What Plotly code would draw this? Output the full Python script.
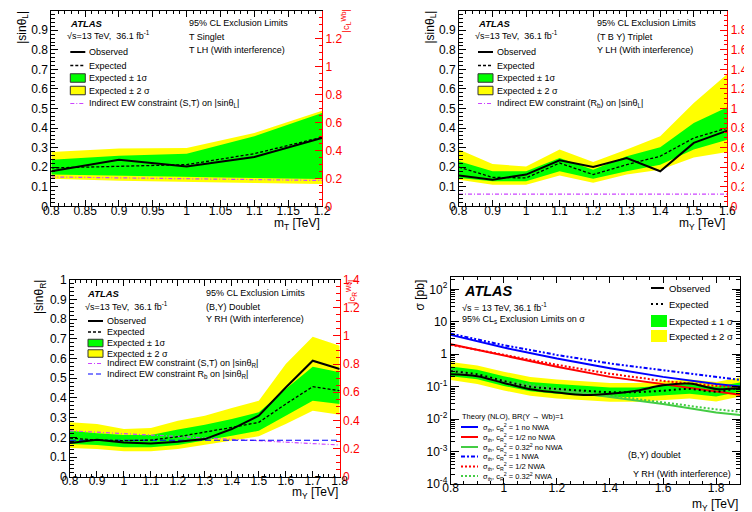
import plotly.graph_objects as go

W, H = 752, 512
def PX(x): return x / W
def PY(y): return 1 - y / H

FONT = "Liberation Sans, Arial, Helvetica, sans-serif"
GREEN = "#00ff00"
YELLOW = "#ffff00"
MAGENTA = "#cc44ff"
RED = "#ff0000"

# ---------------- Panel 1: T singlet ----------------
m_T = [0.8, 0.9, 1.0, 1.1, 1.2]
p1_obs = [0.179, 0.238, 0.203, 0.252, 0.349]
p1_exp = [0.196, 0.204, 0.213, 0.269, 0.353]
p1_s1_hi = [0.238, 0.259, 0.269, 0.358, 0.477]
p1_s1_lo = [0.162, 0.156, 0.150, 0.145, 0.140]
p1_s2_hi = [0.278, 0.295, 0.298, 0.375, 0.489]
p1_s2_lo = [0.141, 0.131, 0.124, 0.119, 0.114]
p1_ew = [0.150, 0.146, 0.141, 0.137, 0.132]

# ---------------- Panel 2: (T B Y) triplet ----------------
m_Y2 = [0.8, 0.9, 1.0, 1.1, 1.2, 1.3, 1.4, 1.5, 1.6]
p2_obs = [0.158, 0.136, 0.162, 0.235, 0.201, 0.247, 0.179, 0.324, 0.387]
p2_exp = [0.200, 0.148, 0.145, 0.221, 0.162, 0.213, 0.256, 0.349, 0.400]
p2_s1_hi = [0.230, 0.179, 0.179, 0.247, 0.187, 0.256, 0.302, 0.426, 0.506]
p2_s1_lo = [0.145, 0.128, 0.128, 0.179, 0.141, 0.179, 0.213, 0.290, 0.340]
p2_s2_hi = [0.290, 0.216, 0.204, 0.290, 0.227, 0.290, 0.358, 0.528, 0.676]
p2_s2_lo = [0.136, 0.110, 0.110, 0.158, 0.120, 0.162, 0.187, 0.250, 0.278]
p2_ew = [0.062, 0.062, 0.062, 0.062, 0.062, 0.062, 0.062, 0.062, 0.062]

# ---------------- Panel 3: (B,Y) doublet, sin theta_R ----------------
m_Y3 = [0.8, 0.9, 1.0, 1.1, 1.2, 1.3, 1.4, 1.5, 1.6, 1.7, 1.8]
p3_obs = [0.171, 0.188, 0.174, 0.169, 0.178, 0.191, 0.242, 0.310, 0.453, 0.589, 0.547]
p3_exp = [0.196, 0.186, 0.183, 0.186, 0.203, 0.225, 0.250, 0.276, 0.369, 0.457, 0.437]
p3_s1_hi = [0.233, 0.220, 0.212, 0.212, 0.239, 0.264, 0.293, 0.327, 0.445, 0.558, 0.530]
p3_s1_lo = [0.166, 0.161, 0.149, 0.149, 0.161, 0.183, 0.208, 0.233, 0.310, 0.386, 0.369]
p3_s2_hi = [0.276, 0.267, 0.242, 0.247, 0.284, 0.310, 0.349, 0.386, 0.572, 0.711, 0.665]
p3_s2_lo = [0.146, 0.140, 0.129, 0.129, 0.140, 0.161, 0.183, 0.205, 0.267, 0.335, 0.315]
p3_ew_st = [0.233, 0.226, 0.218, 0.211, 0.203, 0.196, 0.189, 0.182, 0.175, 0.168, 0.161]
p3_ew_rb = [0.185, 0.185, 0.185, 0.185, 0.185, 0.185, 0.185, 0.185, 0.185, 0.185, 0.185]

# ---------------- Panel 4: cross-section limits ----------------
m_Y4 = [0.8, 0.9, 1.0, 1.1, 1.2, 1.3, 1.4, 1.5, 1.6, 1.7, 1.8, 1.9]
p4_obs = [0.24, 0.21, 0.13, 0.083, 0.066, 0.055, 0.060, 0.075, 0.110, 0.125, 0.085, 0.090]
p4_exp = [0.30, 0.24, 0.15, 0.100, 0.085, 0.075, 0.068, 0.068, 0.075, 0.085, 0.070, 0.100]
p4_s1_hi = [0.42, 0.33, 0.21, 0.140, 0.120, 0.105, 0.095, 0.095, 0.105, 0.120, 0.100, 0.140]
p4_s1_lo = [0.21, 0.17, 0.105, 0.072, 0.060, 0.053, 0.048, 0.048, 0.053, 0.060, 0.050, 0.072]
p4_s2_hi = [0.58, 0.45, 0.29, 0.200, 0.165, 0.145, 0.130, 0.130, 0.145, 0.165, 0.140, 0.200]
p4_s2_lo = [0.16, 0.12, 0.076, 0.052, 0.043, 0.038, 0.034, 0.034, 0.038, 0.043, 0.035, 0.052]
m_th = [0.8, 1.0, 1.2, 1.4, 1.6, 1.8, 1.9]
th_c1 = [3.94, 1.60, 0.735, 0.37, 0.20, 0.12, 0.099]
th_c05 = [2.03, 0.89, 0.41, 0.20, 0.12, 0.075, 0.055]
th_c032 = [0.32, 0.135, 0.079, 0.049, 0.029, 0.016, 0.013]
th_c1_nwa = [4.30, 1.90, 0.95, 0.52, 0.32, 0.20, 0.158]
th_c05_nwa = [1.95, 0.95, 0.47, 0.25, 0.15, 0.105, 0.095]
th_c032_nwa = [0.34, 0.15, 0.088, 0.054, 0.034, 0.020, 0.0166]

log_ticks = [1e-4, 1e-3, 1e-2, 1e-1, 1, 10, 100]
log_ticktext = ["10<sup>-4</sup>", "10<sup>-3</sup>", "10<sup>-2</sup>", "10<sup>-1</sup>", "1", "10", "10<sup>2</sup>"]

fig = go.Figure()

def band(xs, lo, hi, color, xa, ya):
    fig.add_trace(go.Scatter(x=list(xs) + list(xs)[::-1], y=list(hi) + list(lo)[::-1],
                             fill="toself", fillcolor=color, line=dict(width=0), mode="lines",
                             xaxis=xa, yaxis=ya, showlegend=False, hoverinfo="skip"))

def line(xs, ys, color, width, dash, xa, ya, shape="linear"):
    fig.add_trace(go.Scatter(x=xs, y=ys, mode="lines", line=dict(color=color, width=width, dash=dash, shape=shape),
                             xaxis=xa, yaxis=ya, showlegend=False, hoverinfo="skip"))

EXPDASH = "3px,2px"
DASHDOT = "4px,2px,1px,2px"

# Panel 1
band(m_T, p1_s2_lo, p1_s2_hi, YELLOW, "x", "y")
band(m_T, p1_s1_lo, p1_s1_hi, GREEN, "x", "y")
line(m_T, p1_ew, MAGENTA, 1.2, DASHDOT, "x", "y")
line(m_T, p1_exp, "black", 1.3, EXPDASH, "x", "y")
line(m_T, p1_obs, "black", 2, "solid", "x", "y")
fig.add_trace(go.Scatter(x=[], y=[], xaxis="x", yaxis="y5", showlegend=False))

# Panel 2
band(m_Y2, p2_s2_lo, p2_s2_hi, YELLOW, "x2", "y2")
band(m_Y2, p2_s1_lo, p2_s1_hi, GREEN, "x2", "y2")
line(m_Y2, p2_ew, MAGENTA, 1.2, DASHDOT, "x2", "y2")
line(m_Y2, p2_exp, "black", 1.3, EXPDASH, "x2", "y2")
line(m_Y2, p2_obs, "black", 2, "solid", "x2", "y2")
fig.add_trace(go.Scatter(x=[], y=[], xaxis="x2", yaxis="y6", showlegend=False))

# Panel 3
band(m_Y3, p3_s2_lo, p3_s2_hi, YELLOW, "x3", "y3")
band(m_Y3, p3_s1_lo, p3_s1_hi, GREEN, "x3", "y3")
line(m_Y3, p3_ew_st, MAGENTA, 1.2, DASHDOT, "x3", "y3")
line(m_Y3, p3_ew_rb, "#0000ff", 1.2, "6px,3px", "x3", "y3")
line(m_Y3, p3_exp, "black", 1.3, EXPDASH, "x3", "y3")
line(m_Y3, p3_obs, "black", 2, "solid", "x3", "y3")
fig.add_trace(go.Scatter(x=[], y=[], xaxis="x3", yaxis="y7", showlegend=False))

# Panel 4
band(m_Y4, p4_s2_lo, p4_s2_hi, YELLOW, "x4", "y4")
band(m_Y4, p4_s1_lo, p4_s1_hi, GREEN, "x4", "y4")
line(m_th, th_c1, "#0000ff", 2, "solid", "x4", "y4")
line(m_th, th_c05, RED, 2, "solid", "x4", "y4")
line(m_th, th_c032, "#44cc44", 2, "solid", "x4", "y4")
line(m_th, th_c1_nwa, "#0000ff", 2, "4px,2px,2px,2px,2px,2px", "x4", "y4")
line(m_th, th_c05_nwa, RED, 2, "2px,2px", "x4", "y4")
line(m_th, th_c032_nwa, "#44cc44", 2, "2px,2px", "x4", "y4")
line(m_Y4, p4_exp, "black", 2, "2px,3px", "x4", "y4", "spline")
line(m_Y4, p4_obs, "black", 2, "solid", "x4", "y4", "spline")

# ---------------- Axes ----------------
def xax(dom, rng, dtick, mdtick, ya):
    return dict(domain=dom, range=rng, anchor=ya, showline=True, linecolor="black", linewidth=1,
                mirror="ticks", ticks="inside", ticklen=6, tickcolor="black", dtick=dtick, tick0=0,
                minor=dict(ticks="inside", ticklen=3, dtick=mdtick, tickcolor="black", showgrid=False),
                showgrid=False, zeroline=False, tickfont=dict(size=12, color="black"),
                ticklabelstandoff=-7)

def yax(dom, rng, xa, mirror):
    return dict(domain=dom, range=rng, anchor=xa, showline=True, linecolor="black", linewidth=1,
                mirror=mirror, ticks="inside", ticklen=7, tickcolor="black", dtick=0.1, tick0=0,
                minor=dict(ticks="inside", ticklen=3.5, dtick=0.02, tickcolor="black", showgrid=False),
                showgrid=False, zeroline=False, tickfont=dict(size=12, color="black"))

def yright(over, xa, top, mdtick):
    return dict(overlaying=over, anchor=xa, side="right", range=[0, top], showline=True, linecolor=RED,
                linewidth=1, ticks="inside", ticklen=7, tickcolor=RED, dtick=0.2, tick0=0,
                minor=dict(ticks="inside", ticklen=3.5, dtick=mdtick, tickcolor=RED, showgrid=False),
                showgrid=False, zeroline=False, tickfont=dict(size=12, color=RED))

d1x = [PX(43.3), PX(314)]
d2x = [PX(451), PX(719.3)]
dtopy = [PY(198.3), PY(2.7)]
d3x = [PX(62), PX(331.7)]
d3y = [PY(468.7), PY(271.7)]
d4x = [PX(442.7), PX(732)]
d4y = [PY(476), PY(269.3)]

fig.update_layout(
    xaxis=xax(d1x, [0.8, 1.2], 0.05, 0.01, "y"),
    yaxis=yax(dtopy, [0, 1], "x", False),
    xaxis2=xax(d2x, [0.8, 1.6], 0.1, 0.02, "y2"),
    yaxis2=yax(dtopy, [0, 1], "x2", False),
    xaxis3=xax(d3x, [0.8, 1.8], 0.1, 0.02, "y3"),
    yaxis3=yax(d3y, [0, 1], "x3", False),
    xaxis4=xax(d4x, [0.8, 1.89], 0.2, 0.05, "y4"),
    yaxis4=dict(domain=d4y, type="log", range=[-4, 2.37], anchor="x4", showline=True, linecolor="black",
                linewidth=1, mirror="ticks", ticks="inside", ticklen=8, tickcolor="black",
                tickmode="array", tickvals=log_ticks, ticktext=log_ticktext,
                minor=dict(ticks="inside", ticklen=4, dtick="D1", tickcolor="black", showgrid=False),
                showgrid=False, zeroline=False, tickfont=dict(size=12, color="black")),
    yaxis5=yright("y", "x", 1.4, 0.05),
    yaxis6=yright("y2", "x2", 2.0, 0.05),
    yaxis7=yright("y3", "x3", 1.4, 0.05),
)

shapes = []
ann = []

def txt(x, y, s, size=9, color="black", xa="left", ya="middle", angle=0):
    ann.append(dict(x=PX(x), y=PY(y), xref="paper", yref="paper", text=s, showarrow=False,
                    xanchor=xa, yanchor=ya, textangle=angle, font=dict(size=size, color=color, family=FONT)))

def sline(x0, x1, y, color, width, dash="solid"):
    shapes.append(dict(type="line", xref="paper", yref="paper", x0=PX(x0), x1=PX(x1), y0=PY(y), y1=PY(y),
                       line=dict(color=color, width=width, dash=dash)))

def sbox(x0, x1, y, h, fill, outline=None):
    shapes.append(dict(type="rect", xref="paper", yref="paper", x0=PX(x0), x1=PX(x1), y0=PY(y + h / 2),
                       y1=PY(y - h / 2), fillcolor=fill,
                       line=dict(color=outline if outline else fill, width=1 if outline else 0)))

sqrt_s = "√s=13 TeV,  36.1 fb<sup>-1</sup>"

def top_panel(x0, right, ew_label, title2, title3, xtitle, ylab, rlab, rx):
    txt(x0 + 17, 15, "<b><i>ATLAS</i></b>", 9.5)
    txt(x0 + 14, 27, sqrt_s, 9)
    txt(x0 + 136, 15, "95% CL Exclusion Limits", 9)
    txt(x0 + 136, 29, title2, 9)
    txt(x0 + 136, 42, title3, 9)
    lx0, lx1, tx = x0 + 19, x0 + 34, x0 + 36
    sline(lx0, lx1, 44, "black", 2)
    txt(tx, 44, "Observed")
    sline(lx0, lx1, 57.5, "black", 1.3, EXPDASH)
    txt(tx, 57.5, "Expected")
    sbox(lx0, lx1, 70, 8.5, GREEN, "#333333")
    txt(tx, 70, "Expected ± 1σ")
    sbox(lx0, lx1, 82.5, 8.5, YELLOW, "#333333")
    txt(tx, 82.5, "Expected ± 2 σ")
    sline(lx0, lx1, 95.5, MAGENTA, 1.2, DASHDOT)
    txt(tx, 95.5, ew_label)
    txt(right, 216, xtitle, 12, xa="right")
    txt(x0 - 29, 1, ylab, 12, xa="center", ya="top", angle=-90)
    txt(rx, 0, rlab, 9.5, color=RED, xa="center", ya="top", angle=-90)

top_panel(43.3, 314, "Indirect EW constraint (S,T) on |sinθ<sub>L</sub>|", "T Singlet",
          "T LH (With interference)", "m<sub>T</sub> [TeV]", "|sinθ<sub>L</sub>|", "|c<sub>L</sub><sup>Wb</sup>|", 338)
top_panel(451, 719.3, "Indirect EW constraint (R<sub>b</sub>) on |sinθ<sub>L</sub>|", "(T B Y) Triplet",
          "Y LH (With interference)", "m<sub>Y</sub> [TeV]", "|sinθ<sub>L</sub>|", "|c<sub>L</sub><sup>Wb</sup>|", 746)

# Panel 3 texts
txt(77, 285, "<b><i>ATLAS</i></b>", 9.5)
txt(75, 298, sqrt_s, 9)
txt(196, 285, "95% CL Exclusion Limits", 9)
txt(196, 299, "(B,Y) Doublet", 9)
txt(196, 311, "Y RH (With interference)", 9)
lx0, lx1, tx = 80, 95, 97
sline(lx0, lx1, 313, "black", 2); txt(tx, 313, "Observed")
sline(lx0, lx1, 324, "black", 1.3, EXPDASH); txt(tx, 324, "Expected")
sbox(lx0, lx1, 335, 7.5, GREEN, "#333333"); txt(tx, 335, "Expected ± 1σ")
sbox(lx0, lx1, 345.5, 7.5, YELLOW, "#333333"); txt(tx, 345.5, "Expected ± 2 σ")
sline(lx0, lx1, 355.5, MAGENTA, 1.2, DASHDOT); txt(tx, 355.5, "Indirect EW constraint (S,T) on |sinθ<sub>R</sub>|")
sline(lx0, lx1, 366, "#0000ff", 1.2, "5px,3px"); txt(tx, 366, "Indirect EW constraint R<sub>b</sub> on |sinθ<sub>R</sub>|")
txt(331.7, 485, "m<sub>Y</sub> [TeV]", 12, xa="right")
txt(32, 270, "|sinθ<sub>R</sub>|", 12, xa="center", ya="top", angle=-90)
txt(343, 270, "|c<sub>R</sub><sup>Wb</sup>|", 9.5, color=RED, xa="center", ya="top", angle=-90)

# Panel 4 texts
txt(454, 283, "<b><i>ATLAS</i></b>", 14.5)
txt(452, 299, "√s = 13 TeV, 36.1 fb<sup>-1</sup>", 9)
txt(452, 311, "95% CL<sub>s</sub> Exclusion Limits on σ", 9)
sline(643, 656, 280, "black", 2); txt(659, 280, "Observed", 9.5)
sline(643, 656, 296, "black", 2, "2px,3px"); txt(659, 296, "Expected", 9.5)
sbox(643, 659, 313, 12, GREEN); txt(659, 313, "Expected ± 1 σ", 9.5)
sbox(643, 659, 328, 12, YELLOW); txt(659, 328, "Expected ± 2 σ", 9.5)
txt(452, 408, "Theory (NLO), BR(Y → Wb)=1", 7.5)
th_rows = [
    (419, "#0000ff", "solid", "σ<sub>th</sub>, c<sub>R</sub><sup>2</sup> = 1 no NWA"),
    (429, RED, "solid", "σ<sub>th</sub>, c<sub>R</sub><sup>2</sup> = 1/2 no NWA"),
    (439, "#44cc44", "solid", "σ<sub>th</sub>, c<sub>R</sub><sup>2</sup> = 0.32<sup>2</sup> no NWA"),
    (448.5, "#0000ff", "4px,2px,2px,2px", "σ<sub>th</sub>, c<sub>R</sub><sup>2</sup> = 1 NWA"),
    (458.5, RED, "2px,2px", "σ<sub>th</sub>, c<sub>R</sub><sup>2</sup> = 1/2 NWA"),
    (468, "#44cc44", "2px,2px", "σ<sub>th</sub>, c<sub>R</sub><sup>2</sup> = 0.32<sup>2</sup> NWA"),
]
for yy, col, dsh, lab in th_rows:
    sline(453, 470, yy, col, 2, dsh)
    txt(473, yy, lab, 7.5)
txt(618, 447, "(B,Y) doublet", 9)
txt(725, 466, "Y RH (With interference)", 9, xa="right")
txt(732, 497, "m<sub>Y</sub> [TeV]", 12, xa="right")
txt(411, 270, "σ [pb]", 12, xa="center", ya="top", angle=-90)

fig.update_layout(shapes=shapes, annotations=ann, width=W, height=H,
                  margin=dict(l=0, r=0, t=0, b=0, autoexpand=False), plot_bgcolor="white",
                  paper_bgcolor="white", font=dict(family=FONT, color="black"), showlegend=False)

fig.write_html("out.html")
